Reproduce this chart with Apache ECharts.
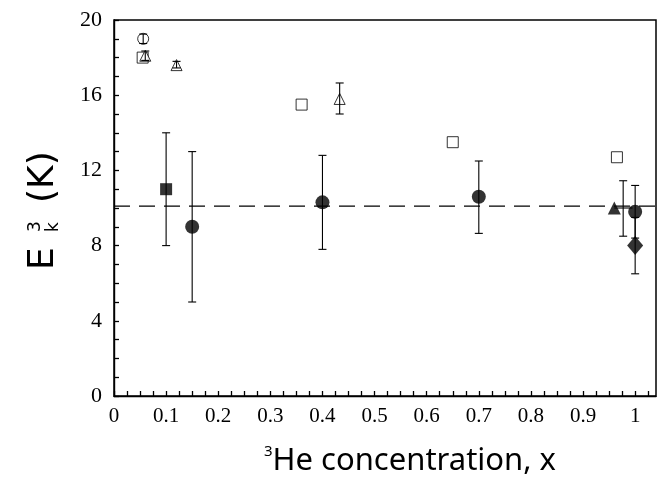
<!DOCTYPE html>
<html>
<head>
<meta charset="utf-8">
<script src="https://cdn.jsdelivr.net/npm/echarts@6/dist/echarts.min.js"></script>
<style>
html,body{margin:0;padding:0;background:#fff;}
#c{width:657px;height:491px;}
</style>
</head>
<body>
<div id="c"></div>
<script>
// ---- data ----
const xTickLabels = ['0','0.1','0.2','0.3','0.4','0.5','0.6','0.7','0.8','0.9','1'];
const yTickLabels = ['0','4','8','12','16','20'];
const filledSquares = [[0.10, 11.0]];
const filledCircles = [[0.15, 9.0], [0.40, 10.3], [0.70, 10.6], [1.00, 9.8]];
const filledTriangles = [[0.96, 10.0]];
const filledDiamonds = [[1.00, 8.0]];
const openSquares = [[0.055, 18.0], [0.36, 15.5], [0.65, 13.5], [0.965, 12.7]];
const openTriangles = [[0.06, 18.1], [0.12, 17.6], [0.433, 15.8]];
const openCircles = [[0.056, 19.0]];
// vertical error bars: [x, low, high]
const vErrors = [
  [0.10, 8.0, 14.0], [0.15, 5.0, 13.0], [0.40, 7.8, 12.8], [0.70, 8.65, 12.5],
  [0.977, 8.5, 11.45], [1.00, 8.4, 11.2], [1.00, 6.5, 9.5],
  [0.433, 15.0, 16.65], [0.056, 18.75, 19.25], [0.06, 17.85, 18.35], [0.12, 17.45, 17.8]
];
// horizontal error bars: [y, xlow, xhigh]
const hErrors = [[10.0, 0.96, 0.995]];
const refLevel = 10.1;
const xRange = [0, 1.04];
const yRange = [0, 20];

const chart = echarts.init(document.getElementById('c'), null, {renderer: 'canvas'});

function errRender(params, api) {
  const x = api.value(0), lo = api.value(1), hi = api.value(2);
  const a = api.coord([x, lo]), b = api.coord([x, hi]);
  const c = 4;
  const st = {stroke: '#000', lineWidth: 1.1};
  return {type: 'group', children: [
    {type: 'line', shape: {x1: a[0], y1: a[1], x2: b[0], y2: b[1]}, style: st},
    {type: 'line', shape: {x1: a[0]-c, y1: a[1], x2: a[0]+c, y2: a[1]}, style: st},
    {type: 'line', shape: {x1: b[0]-c, y1: b[1], x2: b[0]+c, y2: b[1]}, style: st}
  ]};
}
function hErrRender(params, api) {
  const y = api.value(0), lo = api.value(1), hi = api.value(2);
  const a = api.coord([lo, y]), b = api.coord([hi, y]);
  return {type: 'line', shape: {x1: a[0], y1: a[1], x2: b[0], y2: b[1]}, style: {stroke: '#000', lineWidth: 1.1}};
}

const serif = '"Liberation Serif", "Times New Roman", serif';
const sans = '"Noto Sans", "Open Sans", sans-serif';
const wide = '"DejaVu Sans", sans-serif';
const filled = {color: '#000'};
const open = {color: '#fff', borderColor: '#000', borderWidth: 1};

chart.setOption({
  animation: false,
  backgroundColor: '#fff',
  grid: {left: 114, top: 20, right: 1, bottom: 95, show: true, borderColor: '#000', borderWidth: 1.5, backgroundColor: 'transparent'},
  xAxis: {
    type: 'value', min: xRange[0], max: xRange[1], interval: 0.025,
    axisLine: {show: true, onZero: false, lineStyle: {color: '#000', width: 1.4}},
    axisTick: {show: true, inside: true, length: 5, lineStyle: {color: '#000', width: 1.3}},
    splitLine: {show: false},
    axisLabel: {
      color: '#000', fontFamily: serif, fontSize: 21, margin: 10, showMaxLabel: false,
      formatter: function (v) { const i = Math.round(v * 10); return (i >= 0 && i < xTickLabels.length && Math.abs(v*10 - i) < 1e-6) ? xTickLabels[i] : ''; }
    },
    name: '{s|3}{m|He concentration, x}', nameLocation: 'middle', nameGap: 48,
    nameTextStyle: {rich: {
      s: {fontFamily: sans, fontSize: 15, color: '#000', verticalAlign: 'top', lineHeight: 34, padding: [0, 0, 0, 50]},
      m: {fontFamily: sans, fontSize: 31, color: '#000', lineHeight: 34}
    }}
  },
  yAxis: {
    type: 'value', min: yRange[0], max: yRange[1], interval: 1,
    axisLine: {show: true, onZero: false, lineStyle: {color: '#000', width: 1.4}},
    axisTick: {show: true, inside: true, length: 5, lineStyle: {color: '#000', width: 1.3}},
    splitLine: {show: false},
    axisLabel: {color: '#000', fontFamily: serif, fontSize: 22, margin: 12,
      formatter: function (v) { return (Math.round(v) % 4 === 0) ? yTickLabels[Math.round(v) / 4] : ''; }}
  },
  graphic: [{
    type: 'group', x: 62, y: 270, rotation: Math.PI / 2,
    children: [
      {type: 'text', x: 0, y: 0, style: {text: 'E', font: '36px ' + wide, fill: '#000', textVerticalAlign: 'bottom', textAlign: 'left'}},
      {type: 'text', x: 38, y: 0, style: {text: 'k', font: '17px ' + wide, fill: '#000', textVerticalAlign: 'bottom', textAlign: 'left'}},
      {type: 'text', x: 38, y: -18, style: {text: '3', font: '17px ' + wide, fill: '#000', textVerticalAlign: 'bottom', textAlign: 'left'}},
      {type: 'text', x: 67, y: 0, style: {text: '(K)', font: '36px ' + wide, fill: '#000', textVerticalAlign: 'bottom', textAlign: 'left'}}
    ]
  }],
  series: [
    {type: 'line', data: [[xRange[0], refLevel], [xRange[1], refLevel]], symbol: 'none',
     lineStyle: {color: '#000', width: 1.1, type: [16, 9]}, z: 1},
    {type: 'custom', renderItem: errRender, data: vErrors, z: 3},
    {type: 'custom', renderItem: hErrRender, data: hErrors, z: 3},
    {type: 'scatter', data: openSquares, symbol: 'rect', symbolSize: 11, itemStyle: open, z: 2},
    {type: 'scatter', data: openTriangles, symbol: 'triangle', symbolSize: 11, itemStyle: open, z: 2},
    {type: 'scatter', data: openCircles, symbol: 'circle', symbolSize: 11, itemStyle: open, z: 2},
    {type: 'scatter', data: filledSquares, symbol: 'rect', symbolSize: 12, itemStyle: filled, z: 4},
    {type: 'scatter', data: filledCircles, symbol: 'circle', symbolSize: 14, itemStyle: filled, z: 4},
    {type: 'scatter', data: filledTriangles, symbol: 'triangle', symbolSize: 13, itemStyle: filled, z: 4},
    {type: 'scatter', data: filledDiamonds, symbol: 'diamond', symbolSize: [16, 19], itemStyle: filled, z: 4}
  ]
});
</script>
</body>
</html>
